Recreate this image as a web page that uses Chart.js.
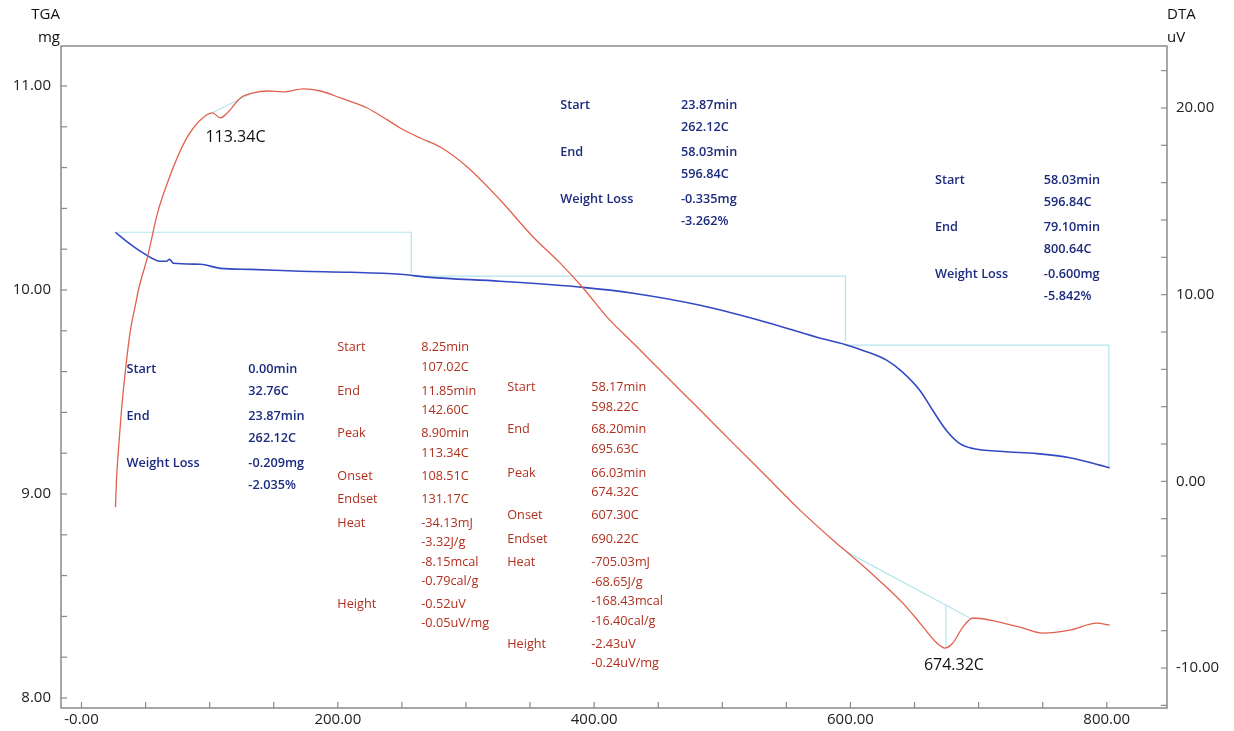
<!DOCTYPE html>
<html><head><meta charset="utf-8">
<script src="https://cdn.jsdelivr.net/npm/chart.js@4.4.0/dist/chart.umd.min.js"></script>
<style>html,body{margin:0;padding:0;background:#fff}canvas{display:block}</style>
</head><body>
<canvas id="c" width="1234" height="731"></canvas>
<script>
// ---------- data (temperature in C) ----------
const tgaTemp = [26.5,35.9,48.3,61.6,66.3,68.6,71.7,92.8,108.4,131.8,170.8,209.7,248.7,272.1,326.7,391.4,430.4,482.7,534.9,573.9,595.7,609.7,628.5,640.9,654.2,664.3,675.2,685.4,695.5,718.9,745.4,771.2,802.3];
const tgaMass = [10.283,10.235,10.181,10.141,10.141,10.151,10.131,10.126,10.106,10.101,10.092,10.087,10.077,10.062,10.043,10.013,9.984,9.925,9.841,9.768,9.733,9.704,9.655,9.596,9.507,9.409,9.309,9.247,9.223,9.208,9.198,9.178,9.129];

const dtaTemp = [26.5,27.3,28.8,31.2,34.3,38.2,42.1,44.4,51.5,59.3,67.0,74.9,82.6,92.8,102.1,108.4,114.6,124.0,134.1,145.0,157.5,173.1,186.4,202.0,223.0,238.6,248.7,264.3,279.9,301.0,326.7,352.4,373.5,391.4,410.1,430.4,456.9,482.7,508.4,534.9,560.6,586.4,597.3,615.2,640.9,654.2,667.4,673.7,679.9,687.7,695.5,708.8,732.2,750.1,771.2,792.2,802.3];
const dtaSignal = [-1.38,0.07,1.68,3.82,5.96,8.11,9.45,10.25,12.02,14.37,15.98,17.37,18.45,19.36,19.74,19.47,19.79,20.54,20.81,20.91,20.86,21.02,20.91,20.54,20.00,19.36,18.93,18.39,17.91,16.84,15.07,13.09,11.69,10.36,8.80,7.41,5.59,3.82,2.05,0.23,-1.54,-3.15,-3.79,-4.86,-6.52,-7.59,-8.66,-8.93,-8.66,-7.81,-7.32,-7.43,-7.81,-8.13,-7.97,-7.59,-7.70];

// TGA weight-loss step guides
const step1Temp = [26.5,257.3,257.3];   const step1Mass = [10.283,10.283,10.082];
const step2Temp = [257.6,596.1,596.1];  const step2Mass = [10.068,10.068,9.750];
const step3Temp = [596.1,801.6,801.6];  const step3Mass = [9.730,9.730,9.126];
// DTA peak baselines
const base1Temp = [102.1,133.3];        const base1Signal = [19.74,20.80];
const base2Temp = [597.3,693.2];        const base2Signal = [-3.79,-7.32];
const peak2Temp = [674.5,674.5];        const peak2Signal = [-6.63,-8.93];

// ticks
const xTickValues = [0,50,100,150,200,250,300,350,400,450,500,550,600,650,700,750,800];
const xTickLabels = {0:'-0.00',200:'200.00',400:'400.00',600:'600.00',800:'800.00'};
const yLTickValues = [8.0,8.2,8.4,8.6,8.8,9.0,9.2,9.4,9.6,9.8,10.0,10.2,10.4,10.6,10.8,11.0];
const yLTickLabels = {8:'8.00',9:'9.00',10:'10.00',11:'11.00'};
const yRTickValues = [-12,-10,-8,-6,-4,-2,0,2,4,6,8,10,12,14,16,18,20,22];
const yRTickLabels = {'-10':'-10.00',0:'0.00',10:'10.00',20:'20.00'};

// annotation texts
const blockA = [['Start','0.00min'],['','32.76C'],['End','23.87min'],['','262.12C'],['Weight Loss','-0.209mg'],['','-2.035%']];
const blockB = [['Start','23.87min'],['','262.12C'],['End','58.03min'],['','596.84C'],['Weight Loss','-0.335mg'],['','-3.262%']];
const blockC = [['Start','58.03min'],['','596.84C'],['End','79.10min'],['','800.64C'],['Weight Loss','-0.600mg'],['','-5.842%']];
const blockD = [['Start','8.25min'],['','107.02C'],['End','11.85min'],['','142.60C'],['Peak','8.90min'],['','113.34C'],['Onset','108.51C'],['Endset','131.17C'],['Heat','-34.13mJ'],['','-3.32J/g'],['','-8.15mcal'],['','-0.79cal/g'],['Height','-0.52uV'],['','-0.05uV/mg']];
const blockE = [['Start','58.17min'],['','598.22C'],['End','68.20min'],['','695.63C'],['Peak','66.03min'],['','674.32C'],['Onset','607.30C'],['Endset','690.22C'],['Heat','-705.03mJ'],['','-68.65J/g'],['','-168.43mcal'],['','-16.40cal/g'],['Height','-2.43uV'],['','-0.24uV/mg']];
const peakLabels = ['113.34C','674.32C'];

// ---------- layout / style ----------
const BLUE_TXT = '#1c2b7e', RED_TXT = '#b0301f';
const blueRows = [0,22,47,69,94,116];
const redRowsD = [0,20,44,63,86,106,129,152,176,195,215,234,257,276];
const redRowsE = [0,20,42,62,86,105,128,152,175,195,214,234,257,276];
const textBlocks = [
  {rows:blockA, dy:blueRows, lx:35.1, vx:130.2, y:9.610, color:BLUE_TXT, weight:'600'},
  {rows:blockB, dy:blueRows, lx:373.5, vx:467.8, y:10.907, color:BLUE_TXT, weight:'600'},
  {rows:blockC, dy:blueRows, lx:665.9, vx:750.9, y:10.538, color:BLUE_TXT, weight:'600'},
  {rows:blockD, dy:redRowsD, lx:199.6, vx:265.1, y:9.718, color:RED_TXT, weight:'500'},
  {rows:blockE, dy:redRowsE, lx:332.2, vx:397.7, y:9.522, color:RED_TXT, weight:'500'}
];
const peakPos = [{x:96.7,y:10.750},{x:657.3,y:8.162}];

const pts = (xs, ys) => xs.map((x,i)=>({x, y: ys[i]}));
const CYAN = '#b3e5ed';
const guide = (xs, ys, axis) => ({data: pts(xs,ys), yAxisID: axis, borderColor: CYAN, borderWidth: 1.2, showLine: true, pointRadius: 0, tension: 0, order: 3});

const FONT = "'Open Sans', 'Noto Sans', sans-serif";

const decor = {
  id: 'decor',
  afterDraw(chart) {
    const {ctx, chartArea: a, scales} = chart;
    ctx.save();
    // frame
    ctx.strokeStyle = '#8a8a8a'; ctx.lineWidth = 1.5;
    ctx.strokeRect(a.left, a.top, a.right - a.left, a.bottom - a.top);
    // inward ticks
    ctx.lineWidth = 1.2;
    scales.x.ticks.forEach(t => { const p = scales.x.getPixelForValue(t.value); ctx.beginPath(); ctx.moveTo(p, a.bottom); ctx.lineTo(p, a.bottom - 6); ctx.stroke(); });
    scales.yL.ticks.forEach(t => { const p = scales.yL.getPixelForValue(t.value); if (p < a.top + 1) return; ctx.beginPath(); ctx.moveTo(a.left, p); ctx.lineTo(a.left + 6, p); ctx.stroke(); });
    scales.yR.ticks.forEach(t => { const p = scales.yR.getPixelForValue(t.value); if (p > a.bottom - 1) return; ctx.beginPath(); ctx.moveTo(a.right, p); ctx.lineTo(a.right - 6, p); ctx.stroke(); });
    // axis titles
    ctx.fillStyle = '#111'; ctx.font = '15px ' + FONT; ctx.textBaseline = 'middle';
    ctx.textAlign = 'right'; ctx.fillText('TGA', a.left - 1, 15); ctx.fillText('mg', a.left - 1, 38);
    ctx.textAlign = 'left'; ctx.fillText('DTA', a.right, 15); ctx.fillText('uV', a.right, 38);
    // annotation blocks
    textBlocks.forEach(b => {
      const y0 = scales.yL.getPixelForValue(b.y);
      const lx = scales.x.getPixelForValue(b.lx), vx = scales.x.getPixelForValue(b.vx);
      ctx.fillStyle = b.color; ctx.font = b.weight + ' 12.7px ' + FONT; ctx.textAlign = 'left';
      b.rows.forEach((r, i) => {
        const y = y0 + b.dy[i];
        if (r[0]) ctx.fillText(r[0], lx, y);
        ctx.fillText(r[1], vx, y);
      });
    });
    // peak labels
    ctx.fillStyle = '#111'; ctx.font = '16px ' + FONT;
    peakLabels.forEach((s, i) => ctx.fillText(s, scales.x.getPixelForValue(peakPos[i].x), scales.yL.getPixelForValue(peakPos[i].y)));
    ctx.restore();
  }
};

const tickFont = {family: FONT, size: 15};
new Chart(document.getElementById('c'), {
  type: 'scatter',
  data: {
    datasets: [
      guide(step1Temp, step1Mass, 'yL'),
      guide(step2Temp, step2Mass, 'yL'),
      guide(step3Temp, step3Mass, 'yL'),
      guide(base1Temp, base1Signal, 'yR'),
      guide(base2Temp, base2Signal, 'yR'),
      guide(peak2Temp, peak2Signal, 'yR'),
      {label: 'TGA', data: pts(tgaTemp, tgaMass), yAxisID: 'yL', borderColor: '#3349c4', borderWidth: 1.6, showLine: true, pointRadius: 0, tension: 0.3, cubicInterpolationMode: 'monotone', order: 2},
      {label: 'DTA', data: pts(dtaTemp, dtaSignal), yAxisID: 'yR', borderColor: '#e1604e', borderWidth: 1.3, showLine: true, pointRadius: 0, tension: 0.3, cubicInterpolationMode: 'monotone', order: 1}
    ]
  },
  options: {
    responsive: false, animation: false,
    layout: {padding: {top: 46, left: 0, right: 0, bottom: 0}},
    plugins: {legend: {display: false}, tooltip: {enabled: false}},
    scales: {
      x: {type: 'linear', min: -16, max: 847,
        afterBuildTicks: s => { s.ticks = xTickValues.map(v => ({value: v})); },
        afterFit: s => { s.height = 23; },
        grid: {display: false, drawTicks: false}, border: {display: false},
        ticks: {autoSkip: false, maxRotation: 0, padding: 3, color: '#222', font: tickFont, callback: v => xTickLabels[v] || ''}},
      yL: {type: 'linear', position: 'left', min: 7.951, max: 11.196,
        afterBuildTicks: s => { s.ticks = yLTickValues.map(v => ({value: v})); },
        afterFit: s => { s.width = 61; },
        grid: {display: false, drawTicks: false}, border: {display: false},
        ticks: {autoSkip: false, padding: 10, color: '#222', font: tickFont, callback: v => yLTickLabels[Math.round(v*100)/100] || ''}},
      yR: {type: 'linear', position: 'right', min: -12.14, max: 23.32,
        afterBuildTicks: s => { s.ticks = yRTickValues.map(v => ({value: v})); },
        afterFit: s => { s.width = 67; },
        grid: {display: false, drawTicks: false}, border: {display: false},
        ticks: {autoSkip: false, padding: 9, color: '#222', font: tickFont, callback: v => yRTickLabels[v] || ''}}
    }
  },
  plugins: [decor]
});
</script>
</body></html>
